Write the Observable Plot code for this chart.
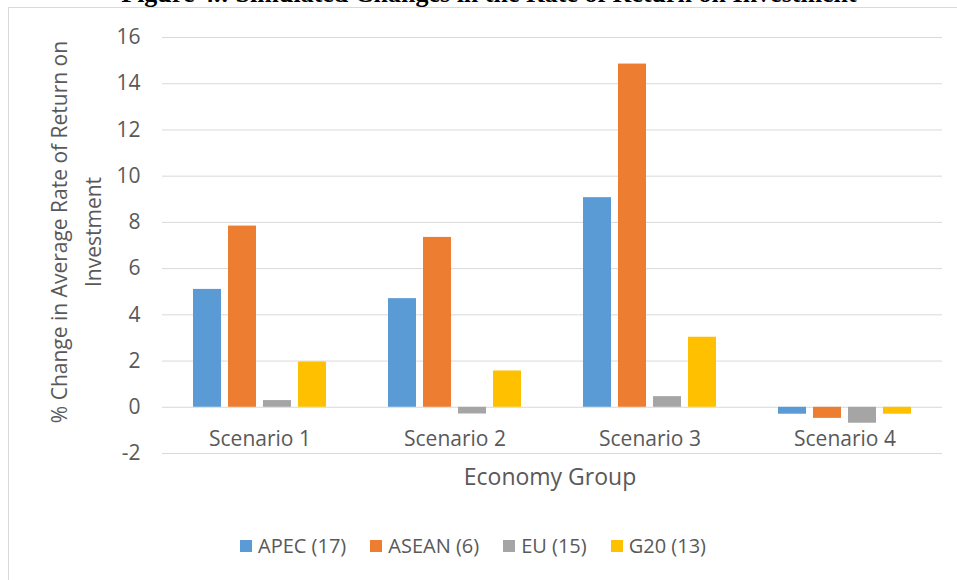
<!DOCTYPE html>
<html>
<head>
<meta charset="utf-8">
<script src="https://cdn.jsdelivr.net/npm/d3@7"></script>
<script src="https://cdn.jsdelivr.net/npm/@observablehq/plot@0.6"></script>
<style>
  html, body { margin: 0; padding: 0; background: #fff; }
  #wrap { position: relative; width: 957px; height: 580px; overflow: hidden; background: #fff; font-family: "Open Sans", sans-serif; color: #595959; }
  #title { position: absolute; left: 0; width: 978px; top: -19px; text-align: center; font-family: "Liberation Serif", serif; font-weight: bold; font-size: 26px; line-height: 26px; color: #000; white-space: nowrap; }
  #frame { position: absolute; left: 8px; top: 7px; width: 980px; height: 600px; border: 1px solid #d9d9d9; box-sizing: border-box; pointer-events: none; }
  #chart { position: absolute; left: 0; top: 0; }
  #ytitle { position: absolute; left: 76px; top: 232px; transform: translate(-50%, -50%) rotate(-90deg); font-size: 21px; line-height: 34px; text-align: center; white-space: nowrap; }
  #xtitle { position: absolute; left: 550px; top: 462px; transform: translateX(-50%); font-size: 23px; line-height: 28px; white-space: nowrap; }
  #legend { position: absolute; left: 240px; top: 532px; display: flex; align-items: center; font-size: 20px; line-height: 28px; white-space: nowrap; }
  .item { display: flex; align-items: center; margin-right: 24px; }
  .sw { width: 12px; height: 12px; margin-right: 6px; }
</style>
</head>
<body>
<div id="wrap">
  <div id="title">Figure 4.: Simulated Changes in the Rate of Return on Investment</div>
  <div id="chart"></div>
  <div id="frame"></div>
  <div id="ytitle">% Change in Average Rate of Return on<br>Investment</div>
  <div id="xtitle">Economy Group</div>
  <div id="legend"></div>
</div>
<script>
const scenarios = ["Scenario 1", "Scenario 2", "Scenario 3", "Scenario 4"];
const groups = ["APEC (17)", "ASEAN (6)", "EU (15)", "G20 (13)"];
const apec = [5.1, 4.7, 9.07, -0.3];
const asean = [7.84, 7.35, 14.85, -0.48];
const eu = [0.29, -0.29, 0.46, -0.69];
const g20 = [1.96, 1.57, 3.03, -0.3];
const colors = ["#5B9BD5", "#ED7D31", "#A5A5A5", "#FFC000"];
const yTicks = [-2, 0, 2, 4, 6, 8, 10, 12, 14, 16];

const series = [apec, asean, eu, g20];
const data = [];
scenarios.forEach((s, i) => {
  groups.forEach((g, j) => {
    data.push({scenario: s, group: g, value: series[j][i]});
  });
});

const chart = Plot.plot({
  width: 957,
  height: 500,
  marginTop: 37,
  marginBottom: 47,
  marginLeft: 162,
  marginRight: 15,
  style: {fontFamily: "Open Sans, sans-serif", fontSize: "21px", color: "#595959", background: "transparent", overflow: "visible"},
  fx: {domain: scenarios, padding: 0, label: null},
  x: {domain: groups, paddingInner: 0.2, paddingOuter: 0.855, axis: null},
  y: {domain: [-2, 16], label: null},
  color: {domain: groups, range: colors},
  marks: [
    Plot.gridY(yTicks, {stroke: "#d9d9d9", strokeOpacity: 1, strokeWidth: 1}),
    Plot.axisY(yTicks, {tickSize: 0, tickPadding: 22, label: null, fontSize: 21, tickFormat: d => String(d)}),
    Plot.axisFx({anchor: "bottom", tickSize: 0, tickPadding: 0, dy: -22, label: null, fontSize: 21}),
    Plot.barY(data, {fx: "scenario", x: "group", y: "value", fill: "group"})
  ]
});
document.getElementById("chart").appendChild(chart);

const legend = document.getElementById("legend");
groups.forEach((g, i) => {
  const item = document.createElement("div");
  item.className = "item";
  const sw = document.createElement("div");
  sw.className = "sw";
  sw.style.background = colors[i];
  const t = document.createElement("span");
  t.textContent = g;
  item.appendChild(sw);
  item.appendChild(t);
  legend.appendChild(item);
});
</script>
</body>
</html>
